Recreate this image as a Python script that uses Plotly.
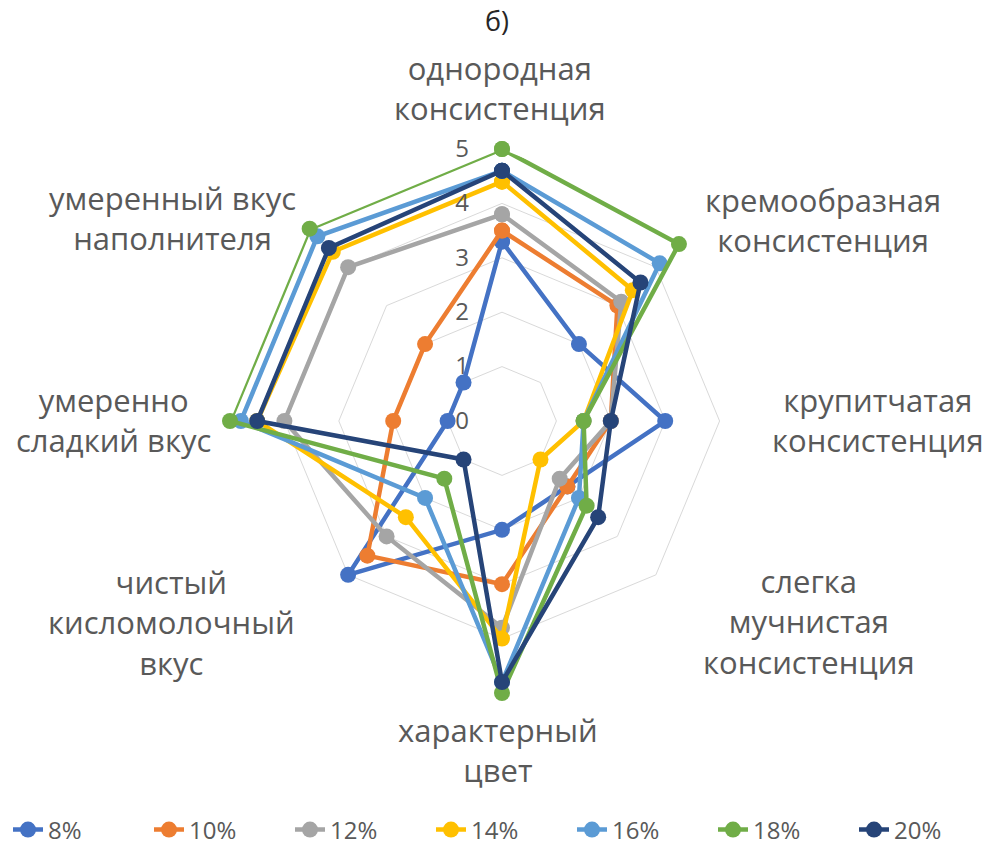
import plotly.graph_objects as go

categories = [
    "однородная<br>консистенция",
    "кремообразная<br>консистенция",
    "крупитчатая<br>консистенция",
    "слегка<br>мучнистая<br>консистенция",
    "характерный<br>цвет",
    "чистый<br>кисломолочный<br>вкус",
    "умеренно<br>сладкий вкус",
    "умеренный вкус<br>наполнителя",
]

series_names = ["8%", "10%", "12%", "14%", "16%", "18%", "20%"]

s8 = [3.3, 2.0, 3.0, 1.7, 2.0, 4.0, 1.0, 1.0]
s10 = [3.5, 3.0, 2.0, 1.7, 3.0, 3.5, 2.0, 2.0]
s12 = [3.8, 3.1, 2.0, 1.5, 3.8, 3.0, 4.0, 4.0]
s14 = [4.4, 3.4, 1.5, 1.0, 4.0, 2.5, 4.5, 4.4]
s16 = [4.6, 4.1, 1.5, 2.0, 4.8, 2.0, 4.8, 4.8]
s18 = [5.0, 4.6, 1.5, 2.2, 5.0, 1.5, 5.0, 5.0]
s20 = [4.6, 3.6, 2.0, 2.5, 4.8, 1.0, 4.5, 4.5]

series_values = [s8, s10, s12, s14, s16, s18, s20]
colors = ["#4472C4", "#ED7D31", "#A5A5A5", "#FFC000", "#5B9BD5", "#70AD47", "#264478"]

radial_ticks = [0, 1, 2, 3, 4, 5]

# pixel centres of the category label blocks (layout only)
label_px = [(500, 88), (823, 220), (878, 420), (809, 621),
            (498, 750), (171, 622), (113, 420), (172, 218)]

fig = go.Figure()
for name, vals, col in zip(series_names, series_values, colors):
    fig.add_trace(go.Scatterpolar(
        r=vals + [vals[0]],
        theta=categories + [categories[0]],
        name=name,
        mode="lines+markers",
        line=dict(color=col, width=4.5),
        marker=dict(color=col, size=16),
        cliponaxis=False,
    ))

W, H = 1003, 846
cx, cy, R = 502, 421, 272

annotations = []
for text, (px, py) in zip(categories, label_px):
    annotations.append(dict(
        text=text, x=px / W, y=1 - py / H, xref="paper", yref="paper",
        xanchor="center", yanchor="middle", align="center", showarrow=False,
        font=dict(size=31, color="#595959", family="Open Sans"),
    ))

fig.update_layout(
    width=W, height=H,
    margin=dict(l=0, r=0, t=0, b=0, autoexpand=False),
    paper_bgcolor="white",
    plot_bgcolor="white",
    font=dict(family="Open Sans", color="#595959"),
    title=dict(text="б)", x=497 / W, y=1 - 22 / H, xanchor="center", yanchor="middle",
               font=dict(size=27, color="#262626", family="Open Sans")),
    annotations=annotations,
    polar=dict(
        domain=dict(x=[(cx - R) / W, (cx + R) / W], y=[1 - (cy + R) / H, 1 - (cy - R) / H]),
        bgcolor="white",
        gridshape="linear",
        angularaxis=dict(
            direction="clockwise",
            rotation=90,
            showgrid=False,
            showline=False,
            showticklabels=False,
            ticks="",
        ),
        radialaxis=dict(
            range=[0, 5],
            tickvals=radial_ticks,
            ticktext=[str(t) for t in radial_ticks],
            angle=90,
            tickangle=90,
            side="counterclockwise",
            showline=False,
            ticks="outside",
            ticklen=24,
            tickcolor="rgba(0,0,0,0)",
            gridcolor="#d9d9d9",
            gridwidth=1,
            tickfont=dict(size=24, color="#595959", family="Open Sans"),
        ),
    ),
    showlegend=True,
    legend=dict(
        orientation="h",
        x=0.5, xanchor="center",
        y=1 - 830 / H, yanchor="middle",
        font=dict(size=24, color="#595959", family="Open Sans"),
        entrywidth=96,
        entrywidthmode="pixels",
        traceorder="normal",
    ),
)

fig.write_html("out.html", config={"displayModeBar": False},
               post_script="document.body.style.margin='0';")
